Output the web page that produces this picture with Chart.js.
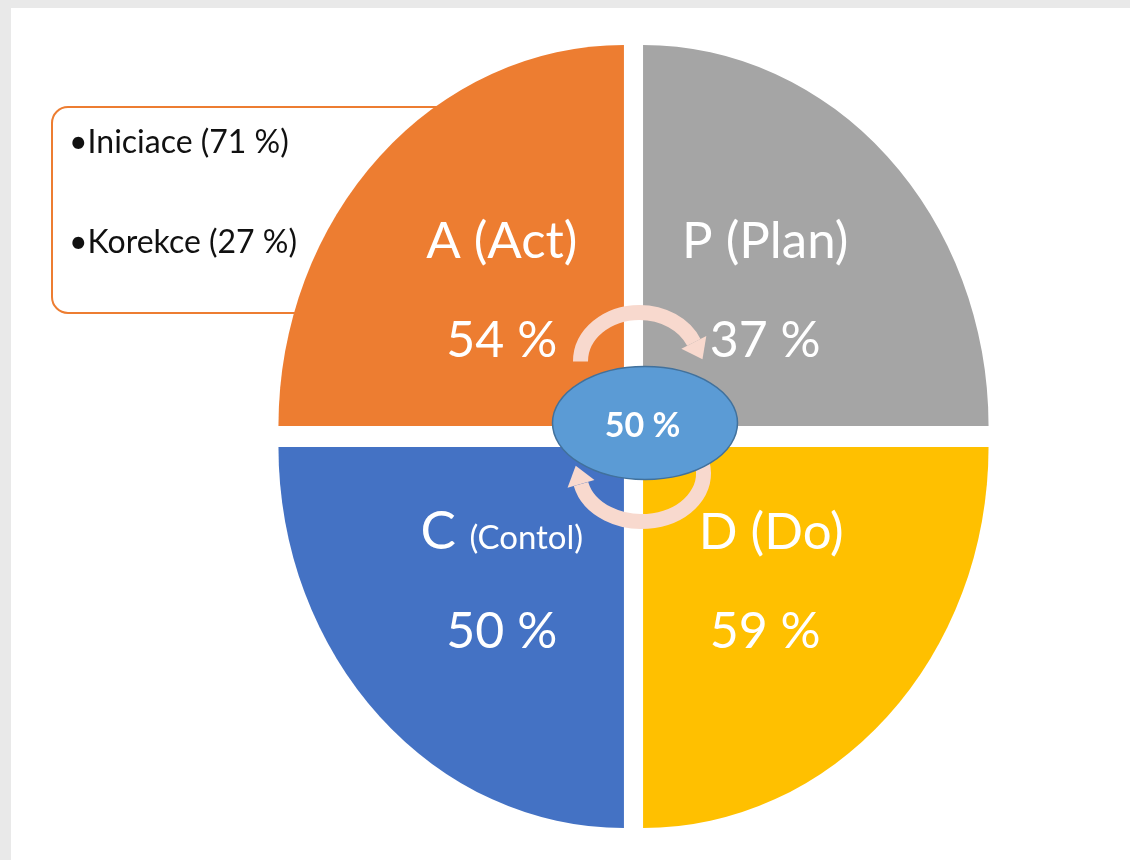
<!DOCTYPE html>
<html>
<head>
<meta charset="utf-8">
<script src="https://cdn.jsdelivr.net/npm/chart.js@4.4.1/dist/chart.umd.min.js"></script>
<style>
  html, body { margin: 0; padding: 0; background: #e9e9e9; }
  #wrap { position: absolute; left: 11px; top: 8px; width: 1119px; height: 852px; background: #fff; }
</style>
</head>
<body>
<div id="wrap"><canvas id="pdcaChart"></canvas></div>
<script>
// PDCA cycle, clockwise from the top right quarter
const phases = ['P', 'D', 'C', 'A'];
const phaseNames = ['Plan', 'Do', 'Contol', 'Act'];
const phaseScores = [37, 59, 50, 54];
const sliceWeights = [1, 1, 1, 1];
const overallScore = 50;
const actItems = ['Iniciace', 'Korekce'];
const actItemScores = [71, 27];

const phaseColors = ['#a5a5a5', '#ffc000', '#4472c4', '#ed7d31'];
const FONT = 'Lato, "Open Sans", sans-serif';
const ARROW = '#f8d9ce';
const stretchY = 1.103; // the original pie is taller than wide

function drawCallout(ctx) {
  ctx.save();
  ctx.beginPath();
  ctx.roundRect(41, 99, 510, 206, 16);
  ctx.fillStyle = '#fff';
  ctx.fill();
  ctx.lineWidth = 2;
  ctx.strokeStyle = '#ed7d31';
  ctx.stroke();
  ctx.fillStyle = '#111';
  ctx.font = '32px ' + FONT;
  ctx.textBaseline = 'alphabetic';
  actItems.forEach((item, i) => {
    ctx.fillText('\u2022' + item + ' (' + actItemScores[i] + ' %)', 58, 145 + i * 100);
  });
  ctx.restore();
}

function drawArrow(ctx, cx, cy, rx, ry, a0, a1) {
  ctx.beginPath();
  ctx.ellipse(cx, cy, rx, ry, 0, a0, a1);
  ctx.lineWidth = 15;
  ctx.lineCap = 'butt';
  ctx.strokeStyle = ARROW;
  ctx.stroke();
  const bx = cx + rx * Math.cos(a1), by = cy + ry * Math.sin(a1);
  let tx = -rx * Math.sin(a1), ty = ry * Math.cos(a1);
  const len = Math.hypot(tx, ty);
  tx /= len; ty /= len;
  const nx = -ty, ny = tx;
  ctx.beginPath();
  ctx.moveTo(bx + nx * 14, by + ny * 14);
  ctx.lineTo(bx + tx * 19, by + ty * 19);
  ctx.lineTo(bx - nx * 14, by - ny * 14);
  ctx.closePath();
  ctx.fillStyle = ARROW;
  ctx.fill();
}

const pdcaPlugin = {
  id: 'pdca',
  beforeDatasetsDraw(chart) {
    const ctx = chart.ctx;
    drawCallout(ctx);
    const arc = chart.getDatasetMeta(0).data[0];
    ctx.save();
    ctx.translate(arc.x, arc.y);
    ctx.scale(1, stretchY);
    ctx.translate(-arc.x, -arc.y);
  },
  afterDatasetsDraw(chart) {
    const ctx = chart.ctx;
    ctx.restore();
    const arcs = chart.getDatasetMeta(0).data;
    const cx = arcs[0].x, cy = arcs[0].y;

    // cycle arrows and the centre badge
    ctx.save();
    drawArrow(ctx, cx + 6, cy - 75, 59, 49, Math.PI, 2 * Math.PI - 0.4);
    drawArrow(ctx, cx + 8, cy + 37, 62, 48, -0.2, Math.PI - 0.22);
    ctx.beginPath();
    ctx.ellipse(cx + 11.5, cy - 13.5, 92.5, 56.5, 0, 0, 2 * Math.PI);
    ctx.fillStyle = '#5b9bd5';
    ctx.fill();
    ctx.lineWidth = 1.5;
    ctx.strokeStyle = '#41719c';
    ctx.stroke();
    ctx.fillStyle = '#fff';
    ctx.font = 'bold 34px ' + FONT;
    ctx.textAlign = 'center';
    ctx.textBaseline = 'alphabetic';
    ctx.fillText(overallScore + ' %', cx + 9, cy);

    // quarter labels
    arcs.forEach((arc, i) => {
      const mid = (arc.startAngle + arc.endAngle) / 2;
      const d = arc.outerRadius / 2 + arc.options.offset / 4;
      const x = cx + Math.cos(mid) * d + (i === 1 ? 6 : 0);
      const y = cy + Math.sin(mid) * d * stretchY;
      const small = phaseNames[i] === 'Contol';
      const head = phases[i] + ' ';
      const tail = '(' + phaseNames[i] + ')';
      const headFont = (small ? 53 : 51) + 'px ' + FONT;
      const tailFont = (small ? 33 : 51) + 'px ' + FONT;
      ctx.font = headFont;
      const w1 = ctx.measureText(head).width;
      ctx.font = tailFont;
      const w2 = ctx.measureText(tail).width;
      const left = x - (w1 + w2) / 2;
      ctx.textAlign = 'left';
      ctx.font = headFont;
      ctx.fillText(head, left, y - 33);
      ctx.font = tailFont;
      ctx.fillText(tail, left + w1, y - 33);
      ctx.textAlign = 'center';
      ctx.font = '50px ' + FONT;
      ctx.fillText(phaseScores[i] + ' %', x - (i === 1 ? 6 : 0), y + 66);
    });
    ctx.restore();
  }
};

new Chart(document.getElementById('pdcaChart'), {
  type: 'pie',
  data: {
    labels: phases.map((p, i) => p + ' (' + phaseNames[i] + ')'),
    datasets: [{
      data: sliceWeights,
      backgroundColor: phaseColors,
      borderWidth: 0,
      offset: 54,
      clip: false
    }]
  },
  options: {
    responsive: true,
    maintainAspectRatio: false,
    animation: false,
    events: [],
    layout: { padding: { left: 250, right: 124, top: 56, bottom: 51 } },
    plugins: {
      legend: { display: false },
      tooltip: { enabled: false }
    }
  },
  plugins: [pdcaPlugin]
});
</script>
</body>
</html>
